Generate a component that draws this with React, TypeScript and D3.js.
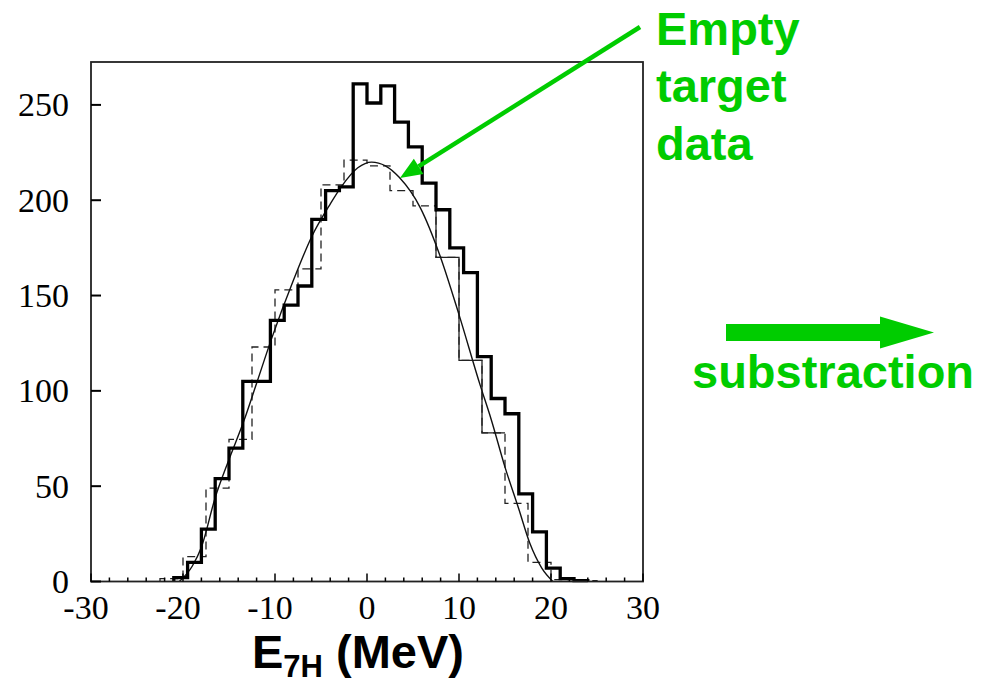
import React from 'react';
import * as d3 from 'd3';

// ---- data ----
const xMajorTicks = [-30, -20, -10, 0, 10, 20, 30];
const yMajorTicks = [0, 50, 100, 150, 200, 250];

// thick histogram (bins 1.5 MeV starting at -21)
const thickStart = -21;
const thickWidth = 1.5;
const thickCounts = [2, 10, 27.5, 54, 70, 105, 105, 137, 145, 155, 190, 205, 207, 261, 251, 260, 241, 228, 209, 195, 175, 162, 118, 96, 88, 46, 26, 7, 1.5, 0.5];

// thin (empty-target) histogram (bins 2.5 MeV starting at -22.5)
const thinStart = -22.5;
const thinWidth = 2.5;
const thinCounts = [1.5, 13, 49, 74.5, 123, 153, 164, 208, 221, 218, 205, 197, 170, 116, 78, 41, 10, 1, 0.5];
const thinSolidFrom = 7.5;
const thinSolidTo = 15;

// fitted smooth curve
const fitX = [-20.4, -19, -18, -16.5, -15, -13.4, -12, -10.4, -8, -6, -4, -2.8, -1, 0.5, 2, 3.5, 5.8, 8, 10, 12.3, 13.5, 15, 16.5, 17.7, 19, 20.2];
const fitY = [0, 8, 18, 44, 64, 84, 104, 127, 158, 181, 198, 207, 217, 220, 218, 212, 196, 170, 140, 103, 85, 60, 38, 20, 7, 0];

const GREEN = '#00cc00';

export default function App() {
  const W = 981, H = 683;
  const left = 91, right = 643, top = 62, bottom = 581.5;
  const x = d3.scaleLinear().domain([-30, 30]).range([left, right]);
  const y = d3.scaleLinear().domain([0, 272.5]).range([bottom, top]);
  const line = d3.line<[number, number]>().x(d => x(d[0])).y(d => y(d[1]));

  const histPts = (start: number, width: number, counts: number[]) => {
    const pts: [number, number][] = [[start, 0]];
    counts.forEach((c, i) => {
      pts.push([start + i * width, c]);
      pts.push([start + (i + 1) * width, c]);
    });
    pts.push([start + counts.length * width, 0]);
    return pts;
  };

  const thickPath = line(histPts(thickStart, thickWidth, thickCounts)) || '';
  const thinPath = line(histPts(thinStart, thinWidth, thinCounts)) || '';

  // solid part of the thin histogram
  const solidPts: [number, number][] = [];
  thinCounts.forEach((c, i) => {
    const lo = thinStart + i * thinWidth;
    const hi = lo + thinWidth;
    if (lo >= thinSolidFrom && hi <= thinSolidTo) {
      if (solidPts.length === 0) solidPts.push([lo, thinCounts[i - 1]]);
      solidPts.push([lo, c]);
      solidPts.push([hi, c]);
    }
  });
  const solidPath = line(solidPts) || '';

  const fitPath = d3.line<number>()
    .x((_, i) => x(fitX[i]))
    .y((d) => y(d))
    .curve(d3.curveMonotoneX)(fitY) || '';

  const minorTicks = d3.range(-30, 30.01, 2);

  // green annotation arrow
  const a0 = [640, 27], a1 = [400, 178];
  const dx = a0[0] - a1[0], dy = a0[1] - a1[1];
  const len = Math.hypot(dx, dy);
  const ux = dx / len, uy = dy / len;
  const headL = 22, headW = 9;
  const bx = a1[0] + ux * headL, by = a1[1] + uy * headL;
  const head = `${a1[0]},${a1[1]} ${bx - uy * headW},${by + ux * headW} ${bx + uy * headW},${by - ux * headW}`;

  const serif = "'Liberation Serif', 'Times New Roman', serif";
  const sans = "'Liberation Sans', Arial, sans-serif";

  return (
    <svg width={W} height={H} style={{ position: 'absolute', left: 0, top: 0, background: '#fff' }}>
      {/* histograms */}
      <path d={thinPath} fill="none" stroke="#222" strokeWidth={1.3} strokeDasharray="8,5" />
      <path d={solidPath} fill="none" stroke="#222" strokeWidth={1.3} />
      <path d={fitPath} fill="none" stroke="#111" strokeWidth={1.4} />
      <path d={thickPath} fill="none" stroke="#000" strokeWidth={3.3} strokeLinejoin="miter" />

      {/* frame */}
      <rect x={left} y={top} width={right - left} height={bottom - top} fill="none" stroke="#222" strokeWidth={1.8} />

      {/* x ticks */}
      {minorTicks.map(t => {
        const major = Math.abs(t % 10) < 1e-6;
        return <line key={'xt' + t} x1={x(t)} x2={x(t)} y1={bottom} y2={bottom - (major ? 8 : 4)} stroke="#000" strokeWidth={1.5} />;
      })}
      {xMajorTicks.map(t => (
        <text key={'xl' + t} x={x(t) + (t < 0 ? -5 : 0)} y={619} textAnchor="middle" fontFamily={serif} fontSize={34} fill="#000">{t}</text>
      ))}

      {/* y ticks */}
      {yMajorTicks.map(t => (
        <g key={'y' + t}>
          <line x1={left} x2={left + 10} y1={y(t)} y2={y(t)} stroke="#000" strokeWidth={2} />
          <text x={69} y={y(t) + 11.5} textAnchor="end" fontFamily={serif} fontSize={34} fill="#000">{t}</text>
        </g>
      ))}

      {/* axis title */}
      <text x={252} y={668} fontFamily={sans} fontWeight="bold" fontSize={47} fill="#000">
        E<tspan fontSize={31} dy={9}>7H</tspan><tspan dy={-9}> (MeV)</tspan>
      </text>

      {/* annotations */}
      <line x1={a0[0]} y1={a0[1]} x2={bx} y2={by} stroke={GREEN} strokeWidth={4.5} />
      <polygon points={head} fill={GREEN} />
      <g fontFamily={sans} fontWeight="bold" fontSize={47} fill={GREEN}>
        <text x={656} y={45}>Empty</text>
        <text x={656} y={102}>target</text>
        <text x={656} y={160}>data</text>
        <text x={692} y={388}>substraction</text>
      </g>
      <rect x={726} y={324} width={156} height={17} fill={GREEN} />
      <polygon points="880,316.5 934,332.5 880,348.5" fill={GREEN} />
    </svg>
  );
}
